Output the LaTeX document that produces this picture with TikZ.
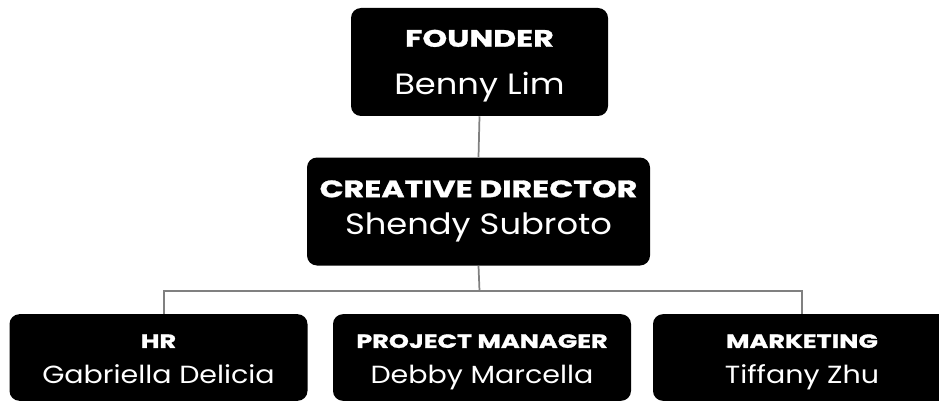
\documentclass[tikz,border=0pt]{standalone}
\usepackage{fontspec}
\setmainfont{Poppins}
\newfontfamily\titleFont[FakeStretch=1.33, FakeBold=1.2]{Poppins}
\newfontfamily\nameFont[FakeStretch=1.15]{Poppins}
\usetikzlibrary{positioning}

\begin{document}
\begin{tikzpicture}[x=0.75pt, y=-0.75pt]

% styles
\tikzstyle{roleBox}=[rectangle, fill=black, rounded corners=7.5pt, inner sep=0pt]
\tikzstyle{topBox}=[roleBox, minimum height=81pt]
\tikzstyle{lowBox}=[roleBox, minimum width=223.5pt, minimum height=65pt]
\tikzstyle{titleTop}=[text=white, inner sep=0pt, anchor=base, font=\titleFont\bfseries\fontsize{17.8}{20}\selectfont]
\tikzstyle{nameTop}=[text=white, inner sep=0pt, anchor=base, font=\nameFont\fontsize{22}{26}\selectfont]
\tikzstyle{titleLow}=[text=white, inner sep=0pt, anchor=base, font=\titleFont\bfseries\fontsize{14.4}{17}\selectfont]
\tikzstyle{nameLow}=[text=white, inner sep=0pt, anchor=base, font=\nameFont\fontsize{18.6}{22}\selectfont]
\tikzstyle{link}=[line width=1.3pt, color=black!50]

\clip (0,0) rectangle (939,403);
\useasboundingbox (0,0) rectangle (939,403);

% boxes
\node[topBox, minimum width=192.75pt] (founder) at (479.5,62) {};
\node[topBox, minimum width=257.25pt] (director) at (478.5,211.5) {};
\node[lowBox] (hr) at (158.5,357.5) {};
\node[lowBox] (pm) at (482,357.5) {};
\node[lowBox] (mkt) at (802,357.5) {};

% texts
\path (founder.north) ++(0,39) node[titleTop] (founderTitle) {FOUNDER};
\path (founder.north) ++(0,87) node[nameTop] (founderName) {Benny Lim};
\path (director.north) ++(0,40) node[titleTop] (directorTitle) {CREATIVE DIRECTOR};
\path (director.north) ++(0,77) node[nameTop] (directorName) {Shendy Subroto};
\path (hr.north) ++(0,34) node[titleLow] (hrTitle) {HR};
\path (hr.north) ++(0,70) node[nameLow] (hrName) {Gabriella Delicia};
\path (pm.north) ++(0,34) node[titleLow] (pmTitle) {PROJECT MANAGER};
\path (pm.north) ++(0,70) node[nameLow] (pmName) {Debby Marcella};
\path (mkt.north) ++(0,34) node[titleLow] (mktTitle) {MARKETING};
\path (mkt.north) ++(0,70) node[nameLow] (mktName) {Tiffany Zhu};

% links
\coordinate (bar) at (479.5,291);
\draw[link] (founder.south) -- (director.north);
\draw[link] (director.south) -- (bar);
\draw[link] ([xshift=4]hr.north) |- (bar) -| (mkt.north);

\end{tikzpicture}
\end{document}
